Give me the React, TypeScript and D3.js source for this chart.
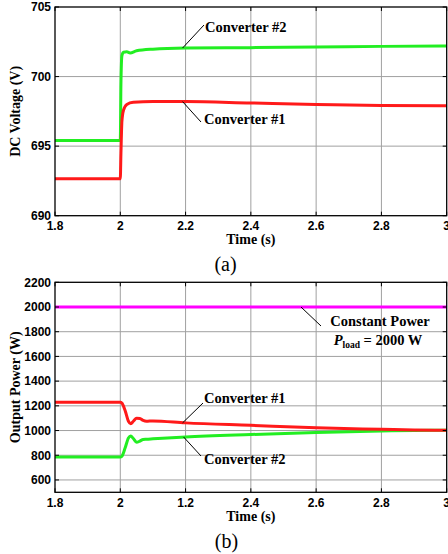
import React from "react";
import * as d3 from "d3";

// ---------- data ----------
const timeTicks = [1.8, 2.0, 2.2, 2.4, 2.6, 2.8, 3.0];
const timeTickLabelsA = ["1.8", "2", "2.2", "2.4", "2.6", "2.8", "3"];
const timeTickLabelsB = ["1.8", "2", "1.2", "2.4", "2.6", "2.8", "3"];

const voltageTicks = [690, 695, 700, 705];
const powerTicks = [600, 800, 1000, 1200, 1400, 1600, 1800, 2000, 2200];

// (a) DC voltage
const conv1VoltT = [1.8, 2.0, 2.002, 2.005, 2.01, 2.02, 2.04, 2.1, 2.2, 2.4, 2.6, 2.8, 3.0];
const conv1VoltV = [692.65, 692.65, 694.5, 696.8, 697.6, 698.0, 698.15, 698.2, 698.2, 698.1, 698.0, 697.92, 697.9];
const conv2VoltT = [1.8, 2.0, 2.002, 2.005, 2.01, 2.02, 2.03, 2.05, 2.1, 2.2, 2.4, 2.6, 2.8, 3.0];
const conv2VoltV = [695.4, 695.4, 699.5, 701.5, 701.75, 701.78, 701.7, 701.85, 701.97, 702.05, 702.08, 702.12, 702.17, 702.2];

// (b) Output power
const powerT = [1.8, 2.0, 2.005, 2.015, 2.025, 2.032, 2.04, 2.05, 2.06, 2.07, 2.08, 2.1, 2.2, 2.4, 2.6, 2.8, 2.9, 3.0];
const conv1PowerP = [1228, 1228, 1222, 1160, 1075, 1055, 1075, 1100, 1098, 1082, 1075, 1078, 1062, 1042, 1022, 1010, 1004, 1002];
const conv2PowerP = [785, 785, 792, 860, 940, 955, 935, 905, 915, 928, 930, 933, 948, 968, 985, 997, 1001, 1002];
const loadT = [1.8, 3.0];
const loadP = [2000, 2000];

const RED = "#ff1a1a";
const GREEN = "#22ee22";
const MAGENTA = "#ff00ff";
const GRID = "#a0a0a0";
const SERIF = "'Liberation Serif', 'Times New Roman', serif";
const SANS = "'Liberation Sans', Arial, sans-serif";

type Pt = [number, number];
const zip = (a: number[], b: number[]): Pt[] => a.map((t, i) => [t, b[i]]);

function Panel(props: {
  top: number;
  bottom: number;
  yDomain: [number, number];
  yTicks: number[];
  xLabels: string[];
  yLabel: string;
  series: { pts: Pt[]; color: string; width: number }[];
  children?: (x: d3.ScaleLinear<number, number>, y: d3.ScaleLinear<number, number>) => React.ReactNode;
}) {
  const left = 55;
  const right = 446.7;
  const x = d3.scaleLinear().domain([1.8, 3.0]).range([left, right]);
  const y = d3.scaleLinear().domain(props.yDomain).range([props.bottom, props.top]);
  const line = d3
    .line<Pt>()
    .x((d) => x(d[0]))
    .y((d) => y(d[1]))
    .curve(d3.curveMonotoneX);
  const midY = (props.top + props.bottom) / 2;
  return (
    <g>
      {/* grid */}
      {timeTicks.slice(1, -1).map((t) => (
        <line key={"gx" + t} x1={x(t)} x2={x(t)} y1={props.top} y2={props.bottom} stroke={GRID} strokeWidth={1} />
      ))}
      {props.yTicks
        .filter((v) => y(v) > props.top + 1 && y(v) < props.bottom - 1)
        .map((v) => (
          <line key={"gy" + v} x1={left} x2={right} y1={y(v)} y2={y(v)} stroke={GRID} strokeWidth={1} />
        ))}
      {/* series */}
      {props.series.map((s, i) => (
        <path key={i} d={line(s.pts) || ""} fill="none" stroke={s.color} strokeWidth={s.width} strokeLinejoin="round" />
      ))}
      {/* frame */}
      <rect x={left} y={props.top} width={right - left} height={props.bottom - props.top} fill="none" stroke="#000" strokeWidth={1.3} />
      {/* ticks */}
      {timeTicks.map((t) => (
        <g key={"tx" + t}>
          <line x1={x(t)} x2={x(t)} y1={props.bottom} y2={props.bottom - 4} stroke="#000" strokeWidth={1} />
          <line x1={x(t)} x2={x(t)} y1={props.top} y2={props.top + 4} stroke="#000" strokeWidth={1} />
        </g>
      ))}
      {props.yTicks.map((v) => (
        <g key={"ty" + v}>
          <line x1={left} x2={left + 4} y1={y(v)} y2={y(v)} stroke="#000" strokeWidth={1} />
          <line x1={right} x2={right - 4} y1={y(v)} y2={y(v)} stroke="#000" strokeWidth={1} />
        </g>
      ))}
      {/* tick labels */}
      {timeTicks.map((t, i) => (
        <text key={"lx" + t} x={x(t)} y={props.bottom + 14.5} textAnchor="middle" fontFamily={SANS} fontWeight="bold" fontSize={12}>
          {props.xLabels[i]}
        </text>
      ))}
      {props.yTicks.map((v) => (
        <text key={"ly" + v} x={51} y={y(v) + 4.3} textAnchor="end" fontFamily={SANS} fontWeight="bold" fontSize={12}>
          {v}
        </text>
      ))}
      {/* axis titles */}
      <text x={(left + right) / 2} y={props.bottom + 28.5} textAnchor="middle" fontFamily={SERIF} fontWeight="bold" fontSize={14}>
        Time (s)
      </text>
      <text
        transform={`translate(20,${midY}) rotate(-90)`}
        textAnchor="middle"
        fontFamily={SERIF}
        fontWeight="bold"
        fontSize={14}
      >
        {props.yLabel}
      </text>
      {props.children && props.children(x, y)}
    </g>
  );
}

export default function App() {
  const ann = { fontFamily: SERIF, fontWeight: "bold" as const, fontSize: 14.5 };
  return (
    <svg width={448} height={554} style={{ position: "absolute", left: 0, top: 0, background: "#fff" }}>
      <rect width={448} height={554} fill="#fff" />
      <Panel
        top={7}
        bottom={215.7}
        yDomain={[690, 705]}
        yTicks={voltageTicks}
        xLabels={timeTickLabelsA}
        yLabel="DC Voltage (V)"
        series={[
          { pts: zip(conv2VoltT, conv2VoltV), color: GREEN, width: 3 },
          { pts: zip(conv1VoltT, conv1VoltV), color: RED, width: 3 },
        ]}
      >
        {(x, y) => (
          <g>
            <line x1={x(2.2) - 3} y1={y(702.05)} x2={204} y2={25} stroke="#000" strokeWidth={1} />
            <text x={205} y={32} {...ann}>Converter #2</text>
            <line x1={x(2.2) - 3} y1={y(698.2)} x2={201} y2={122} stroke="#000" strokeWidth={1} />
            <text x={204} y={123.5} {...ann}>Converter #1</text>
          </g>
        )}
      </Panel>
      <text x={225.5} y={270.5} textAnchor="middle" fontFamily={SERIF} fontSize={20}>(a)</text>

      <Panel
        top={282.3}
        bottom={492.3}
        yDomain={[500, 2200]}
        yTicks={powerTicks}
        xLabels={timeTickLabelsB}
        yLabel="Output Power (W)"
        series={[
          { pts: zip(loadT, loadP), color: MAGENTA, width: 3 },
          { pts: zip(powerT, conv2PowerP), color: GREEN, width: 3 },
          { pts: zip(powerT, conv1PowerP), color: RED, width: 3 },
        ]}
      >
        {(x, y) => (
          <g>
            <line x1={x(2.2) - 3} y1={y(1062)} x2={203} y2={403} stroke="#000" strokeWidth={1} />
            <text x={204} y={402.5} {...ann}>Converter #1</text>
            <line x1={x(2.2) - 2} y1={y(948)} x2={201} y2={456} stroke="#000" strokeWidth={1} />
            <text x={204} y={463.5} {...ann}>Converter #2</text>
            <line x1={301} y1={y(2000)} x2={321} y2={326} stroke="#000" strokeWidth={1} />
            <text x={380} y={326} textAnchor="middle" {...ann}>Constant Power</text>
            <text x={378} y={344.5} textAnchor="middle" {...ann}>
              <tspan fontStyle="italic">P</tspan>
              <tspan fontSize={9.5} dy={3}>load</tspan>
              <tspan dy={-3}> = 2000 W</tspan>
            </text>
          </g>
        )}
      </Panel>
      <text x={226.5} y={548} textAnchor="middle" fontFamily={SERIF} fontSize={20}>(b)</text>
    </svg>
  );
}
